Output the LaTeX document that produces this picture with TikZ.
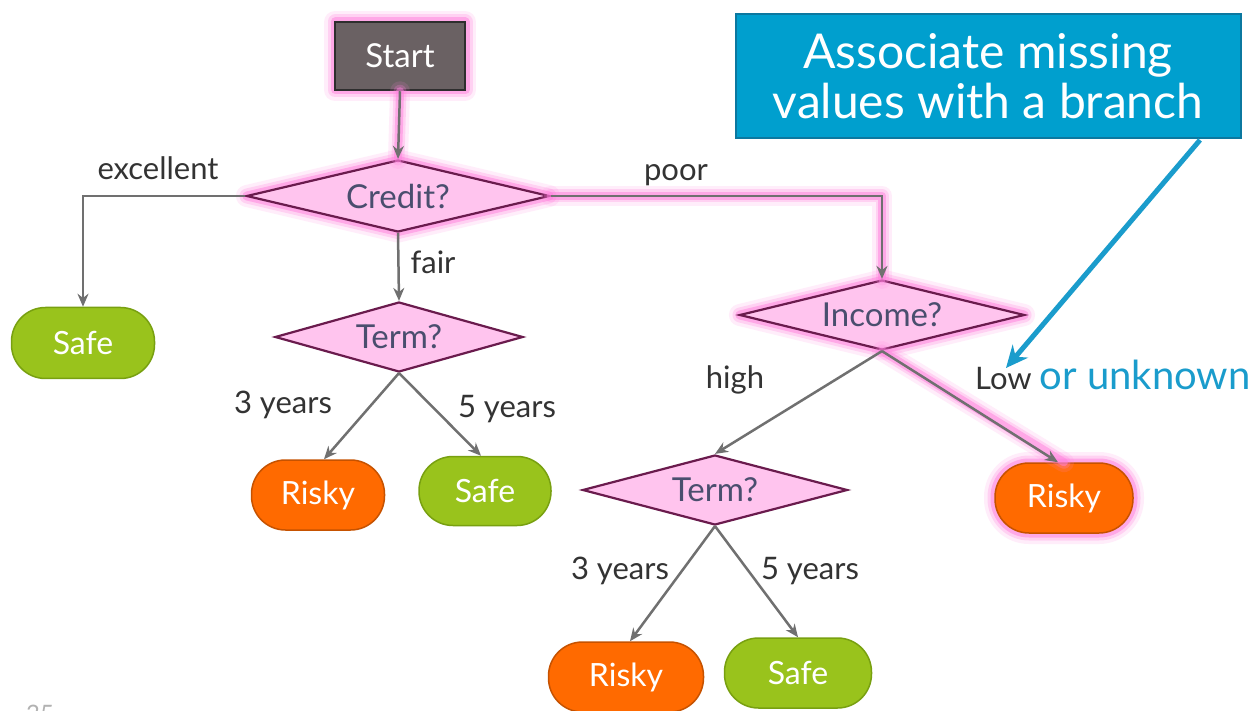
\documentclass[tikz,border=0pt]{standalone}
\usepackage{fontspec}
\setmainfont{Lato}
\usetikzlibrary{shapes.geometric,arrows.meta}
\definecolor{glowc}{HTML}{FF80DE}
\definecolor{dfill}{HTML}{FFC4EE}
\definecolor{dline}{HTML}{6A1B4D}
\definecolor{dtext}{HTML}{4A4E6E}
\definecolor{startfill}{HTML}{6A6163}
\definecolor{startline}{HTML}{2E2E2E}
\definecolor{greenf}{HTML}{99C31C}
\definecolor{greenl}{HTML}{78A010}
\definecolor{orangef}{HTML}{FF6A00}
\definecolor{orangel}{HTML}{C65200}
\definecolor{bluef}{HTML}{009FCE}
\definecolor{bluel}{HTML}{0B78A0}
\definecolor{conn}{HTML}{707070}
\definecolor{labc}{HTML}{333333}
\definecolor{arrowblue}{HTML}{1A9CCC}
\begin{document}
\begin{tikzpicture}[x=1pt,y=-1pt,
  glow/.style={preaction={draw=glowc,line width=22pt,opacity=.14,line join=round},
               preaction={draw=glowc,line width=15pt,opacity=.25,line join=round},
               preaction={draw=glowc,line width=9pt,opacity=.5,line join=round}},
  dec/.style={diamond,aspect=4,draw=dline,line width=2.2pt,fill=dfill,text=dtext,
              font=\fontsize{33}{35}\selectfont,inner sep=0pt},
  leaf/.style={rectangle,rounded corners=34pt,line width=1.5pt,text=white,
               font=\fontsize{32}{34}\selectfont,inner sep=0pt},
  safe/.style={leaf,fill=greenf,draw=greenl},
  risky/.style={leaf,fill=orangef,draw=orangel},
  edge/.style={draw=conn,line width=2.5pt,-{Stealth[length=13pt,width=11pt]}},
  glowline/.style={draw=glowc,line cap=round,line join=round},
  lab/.style={text=labc,font=\fontsize{31}{33}\selectfont,inner sep=0pt}
]
\useasboundingbox[fill=white] (0,0) rectangle (1259,711);

% nodes
\node[glow,rectangle,fill=startfill,draw=startline,line width=2.5pt,
      minimum width=130pt,minimum height=68pt,text=white,
      font=\fontsize{33}{35}\selectfont] (start) at (400,56) {Start};
\node[dec,glow,minimum width=303pt,minimum height=72pt] (credit) at (398,196) {Credit?};
\node[dec,minimum width=248pt,minimum height=70pt] (term1) at (399,337) {Term?};
\node[dec,glow,minimum width=285pt,minimum height=70pt] (income) at (882,315) {Income?};
\node[dec,minimum width=265pt,minimum height=70pt] (term2) at (715,490) {Term?};

\node[safe,minimum width=143pt,minimum height=71pt] (safe1) at (83,343) {Safe};
\node[risky,minimum width=133pt,minimum height=70pt] (risky1) at (318,495) {Risky};
\node[safe,minimum width=132pt,minimum height=69pt] (safe2) at (485,491) {Safe};
\node[risky,glow,minimum width=138pt,minimum height=70pt] (risky2) at (1064,498) {Risky};
\node[risky,minimum width=155pt,minimum height=70pt] (risky3) at (626,677) {Risky};
\node[safe,minimum width=147pt,minimum height=70pt] (safe3) at (798,673) {Safe};

% callout
\node[rectangle,fill=bluef,draw=bluel,line width=2pt,minimum width=505pt,minimum height=124pt,
      text=white,align=center,font=\fontsize{48}{50}\selectfont] (call) at (988,76)
      {Associate missing\\values with a branch};
\coordinate (cs) at (1200,140);
\coordinate (ce) at (1006,368);

% glow under highlighted connectors
\foreach \w/\o in {20/.14,13/.25,8/.5}{
  \path[glowline,line width=\w pt,opacity=\o] (start.south) -- (credit.north);
  \path[glowline,line width=\w pt,opacity=\o] (credit.east) -| (income.north);
  \path[glowline,line width=\w pt,opacity=\o] (income.south) -- (risky2.north);
}

% connectors
\draw[edge] (start.south) -- (credit.north);
\draw[edge] (credit.west) -| (safe1.north);
\draw[edge] (credit.south) -- (term1.north);
\draw[edge] (credit.east) -| (income.north);
\draw[edge] (term1.south) -- ([xshift=6pt]risky1.north);
\draw[edge] (term1.south) -- ([xshift=-4pt]safe2.north);
\draw[edge] (income.south) -- (term2.north);
\draw[edge] (income.south) -- ([xshift=-6pt]risky2.north);
\draw[edge] (term2.south) -- ([xshift=4pt]risky3.north);
\draw[edge] (term2.south) -- (safe3.north);
\draw[draw=arrowblue,line width=5pt,-{Stealth[length=22pt,width=20pt]}] (cs) -- (ce);

% labels
\node[lab] (lexc) at (158,168) {excellent};
\node[lab] (lfair) at (433,262) {fair};
\node[lab] (lpoor) at (676,175) {poor};
\node[lab] (l3a) at (283,405) {3 years};
\node[lab] (l5a) at (507,409) {5 years};
\node[lab] (lhigh) at (735,380) {high};
\node[lab,anchor=base west] (llow) at (975,389) {Low \textcolor{arrowblue}{\fontsize{40}{42}\selectfont or unknown}};
\node[lab] (l3b) at (620,571) {3 years};
\node[lab] (l5b) at (810,571) {5 years};
\node[text=gray!60,font=\fontsize{24}{26}\selectfont,anchor=base] (pg) at (40,722) {35};
\end{tikzpicture}
\end{document}
